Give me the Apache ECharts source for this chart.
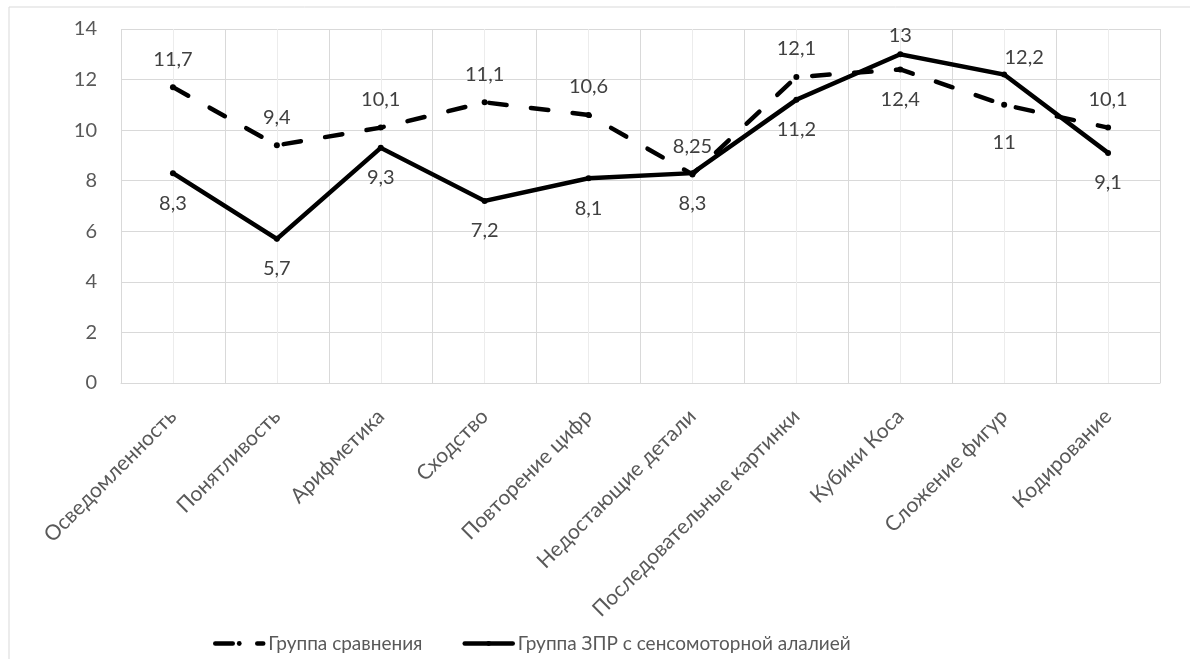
<!DOCTYPE html>
<html>
<head>
<meta charset="utf-8">
<script src="https://cdn.jsdelivr.net/npm/echarts@6/dist/echarts.min.js"></script>
<style>
  html, body { margin: 0; padding: 0; background: #fff; }
  #chart { width: 1190px; height: 659px; }
</style>
</head>
<body>
<div id="chart"></div>
<script>
// Subtest names (category axis)
const categories = [
  'Осведомленность', 'Понятливость', 'Арифметика', 'Сходство', 'Повторение цифр',
  'Недостающие детали', 'Последовательные картинки', 'Кубики Коса', 'Сложение фигур', 'Кодирование'
];

// Mean scores per subtest
const comparisonGroup = [11.7, 9.4, 10.1, 11.1, 10.6, 8.25, 12.1, 12.4, 11, 10.1];
const zprGroup = [8.3, 5.7, 9.3, 7.2, 8.1, 8.3, 11.2, 13, 12.2, 9.1];

const seriesNames = ['Группа сравнения', 'Группа ЗПР с сенсомоторной алалией'];
const yTicks = { min: 0, max: 14, step: 2 };

const FONT = 'Lato, "Open Sans", sans-serif';
const fmt = v => String(v).replace('.', ',');

// Attach per-point label overrides where the two lines cross over
function labelled(values, overrides) {
  return values.map((v, i) => {
    const o = overrides[i];
    return o ? { value: v, label: o } : { value: v };
  });
}

const comparisonData = labelled(comparisonGroup, {
  7: { position: 'bottom', distance: 17 },
  8: { position: 'bottom', distance: 25 }
});
const zprData = labelled(zprGroup, {
  7: { position: 'top', distance: 6 },
  8: { position: 'top', distance: 4, offset: [20, 0] }
});

const labelStyle = {
  show: true,
  color: '#404040',
  fontSize: 20,
  fontFamily: FONT,
  formatter: p => fmt(p.value)
};

const chart = echarts.init(document.getElementById('chart'), null, { renderer: 'canvas' });

chart.setOption({
  animation: false,
  backgroundColor: '#fff',
  graphic: [{
    type: 'rect',
    shape: { x: 9, y: 7, width: 1200, height: 700 },
    style: { fill: 'none', stroke: '#d9d9d9', lineWidth: 1 },
    silent: true
  }],
  grid: { left: 121, right: 30, top: 29, bottom: 276, containLabel: false },
  legend: {
    left: 208,
    top: 629,
    itemWidth: 48,
    itemHeight: 6,
    itemGap: 40,
    lineStyle: { width: 4.5, cap: 'round' },
    textStyle: { color: '#595959', fontSize: 19, fontFamily: FONT },
    data: seriesNames
  },
  xAxis: [{
    type: 'category',
    data: categories,
    boundaryGap: true,
    axisLine: { show: true, lineStyle: { color: '#d9d9d9', width: 1 } },
    axisTick: { show: false },
    splitLine: { show: false },
    axisLabel: {
      interval: 0,
      rotate: 45,
      margin: 30,
      color: '#595959',
      fontSize: 21,
      fontFamily: FONT
    }
  }, {
    // half-category grid: darker lines at category edges, lighter through the centres
    type: 'category',
    data: new Array(categories.length * 2).fill(''),
    boundaryGap: true,
    position: 'bottom',
    axisLine: { show: false },
    axisTick: { show: false },
    axisLabel: { show: false },
    splitLine: { show: true, interval: 0, lineStyle: { color: ['#d9d9d9', '#ececec'], width: 1 } }
  }],
  yAxis: {
    type: 'value',
    min: yTicks.min,
    max: yTicks.max,
    interval: yTicks.step,
    axisLine: { show: false },
    axisTick: { show: false },
    splitLine: { show: true, lineStyle: { color: '#d9d9d9', width: 1 } },
    axisLabel: { margin: 24, color: '#595959', fontSize: 20, fontFamily: FONT }
  },
  series: [{
    name: seriesNames[0],
    type: 'line',
    data: comparisonData,
    symbol: 'circle',
    symbolSize: 6,
    itemStyle: { color: '#000' },
    lineStyle: { color: '#000', width: 4.5, type: [17.5, 24.5], cap: 'round', join: 'round' },
    label: Object.assign({}, labelStyle, { position: 'top', distance: 15 }),
    z: 2
  }, {
    name: seriesNames[1],
    type: 'line',
    data: zprData,
    symbol: 'circle',
    symbolSize: 6,
    itemStyle: { color: '#000' },
    lineStyle: { color: '#000', width: 4.5, type: 'solid', cap: 'round', join: 'miter' },
    label: Object.assign({}, labelStyle, { position: 'bottom', distance: 17 }),
    z: 3
  }]
});
</script>
</body>
</html>
